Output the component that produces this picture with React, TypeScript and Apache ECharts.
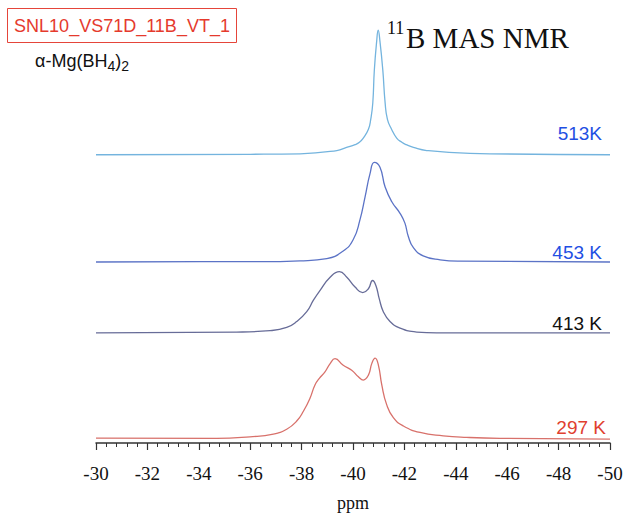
import React, { useEffect, useRef } from "react";
import * as echarts from "echarts";

// ppm positions and intensities (baseline-relative)
const ppm513 = [-30, -36, -37.94, -39.37, -39.75, -40.08, -40.25, -40.4, -40.6, -40.69, -40.77, -40.83, -40.92, -40.98, -41.05, -41.16, -41.25, -41.34, -41.5, -41.7, -41.9, -42.07, -42.35, -42.87, -44.55, -50];
const int513 = [0, 0.5, 1, 4.3, 7.5, 10.3, 12.7, 17, 26, 36, 52.7, 86, 115, 126.7, 115, 86, 52.7, 36, 26, 17, 12.7, 10.3, 7.5, 4.3, 1.5, 0];

const ppm453 = [-30, -34.05, -36.38, -37.94, -38.98, -39.62, -40.01, -40.27, -40.47, -40.66, -40.83, -41.05, -41.25, -41.51, -41.83, -42.02, -42.15, -42.35, -42.73, -43.39, -44.16, -50];
const int453 = [0, 0.3, 0.3, 1.2, 3.5, 11.2, 22.8, 42.8, 66.2, 89.5, 101.2, 96.2, 76.2, 61.2, 49.5, 39.5, 26.2, 14.5, 6.2, 2.2, 0.8, 0];

const ppm413 = [-30, -35.47, -36.77, -37.42, -37.81, -38.2, -38.46, -38.72, -39.11, -39.47, -39.76, -40.08, -40.38, -40.6, -40.76, -40.89, -41.02, -41.18, -41.44, -41.83, -42.48, -43.25, -50];
const int413 = [0, 0.8, 2.2, 5.5, 11.5, 21.5, 33.2, 43.2, 56.5, 62.2, 56.5, 46.5, 40.8, 44.8, 53.2, 48.2, 34.8, 21.5, 11.5, 4.8, 0.8, 0, 0];

const ppm297 = [-30, -34.7, -35.99, -36.9, -37.42, -37.81, -38.07, -38.33, -38.52, -38.69, -38.91, -39.11, -39.3, -39.62, -39.95, -40.21, -40.4, -40.6, -40.73, -40.86, -40.99, -41.12, -41.31, -41.57, -41.96, -42.61, -43.51, -44.42, -45.72, -50];
const int297 = [1, 0.7, 2.3, 5, 10, 18.3, 28.3, 41.7, 55, 61.7, 68.3, 76.7, 81.7, 75, 70, 63.3, 60, 65, 76.7, 82.3, 75, 55, 35, 21.7, 13.3, 6.7, 3.3, 1.7, 0.7, 0];

const temps = ["513K", "453 K", "413 K", "297 K"];
const offsets = [293, 184, 112, 4];
const xTicksMin = -50;
const xTicksMax = -30;

const serif = "'Liberation Serif', 'DejaVu Serif', serif";
const sans = "'Liberation Sans', Arial, sans-serif";

export default function App() {
  const ref = useRef<HTMLDivElement>(null);
  useEffect(() => {
    if (!ref.current) return;
    const chart = echarts.init(ref.current, null, { renderer: "svg" });
    const sets = [
      [ppm513, int513, "#74b4de"],
      [ppm453, int453, "#5b73c6"],
      [ppm413, int413, "#676c98"],
      [ppm297, int297, "#d8716b"],
    ] as const;
    const series = sets.map(([p, v, c], k) => ({
      type: "line",
      name: temps[k],
      data: (p as number[]).map((x, i) => [x, offsets[k] + (v as number[])[i]]),
      showSymbol: false,
      smooth: 0.5,
      lineStyle: { color: c, width: 1.3 },
      itemStyle: { color: c },
    }));
    chart.setOption({
      animation: false,
      backgroundColor: "#ffffff",
      grid: { left: 96, right: 18, top: 20, bottom: 67 },
      xAxis: {
        type: "value",
        min: xTicksMin,
        max: xTicksMax,
        interval: 2,
        inverse: true,
        name: "ppm",
        nameLocation: "middle",
        nameGap: 51,
        nameTextStyle: { fontFamily: serif, fontSize: 18, color: "#111" },
        axisLine: { lineStyle: { color: "#333", width: 1.5 } },
        axisTick: { show: true, length: 7, lineStyle: { color: "#333", width: 1.2 } },
        minorTick: { show: true, splitNumber: 5, length: 4, lineStyle: { color: "#333", width: 1 } },
        axisLabel: { fontFamily: serif, fontSize: 19, color: "#111", margin: 21 },
        splitLine: { show: false },
      },
      yAxis: { type: "value", min: 0, max: 430, show: false },
      series,
      graphic: [
        {
          type: "rect",
          shape: { x: 7.5, y: 8.5, width: 229, height: 34 },
          style: { fill: "none", stroke: "#e5453a", lineWidth: 1 },
        },
        {
          type: "text",
          x: 122,
          y: 25.5,
          style: { text: "SNL10_VS71D_11B_VT_1", fill: "#e53a2d", font: `18px ${sans}`, align: "center", verticalAlign: "middle" },
        },
        {
          type: "text",
          x: 35,
          y: 49,
          style: {
            text: "α-Mg(BH{sub|4}){sub|2}",
            fill: "#111",
            font: `18px ${sans}`,
            verticalAlign: "top",
            rich: { sub: { fontSize: 14, fontFamily: sans, padding: [10, 0, 0, 0], fill: "#111" } },
          },
        },
        {
          type: "text",
          x: 387,
          y: 19,
          style: { text: "11", fill: "#111", font: `18px ${serif}`, verticalAlign: "top" },
        },
        {
          type: "text",
          x: 406,
          y: 23,
          style: { text: "B MAS NMR", fill: "#111", font: `29px ${serif}`, verticalAlign: "top" },
        },
        { type: "text", x: 602, y: 133, style: { text: temps[0], fill: "#1f4fe3", font: `19px ${sans}`, align: "right", verticalAlign: "middle" } },
        { type: "text", x: 602, y: 252, style: { text: temps[1], fill: "#1f4fe3", font: `19px ${sans}`, align: "right", verticalAlign: "middle" } },
        { type: "text", x: 602, y: 323, style: { text: temps[2], fill: "#111", font: `19px ${sans}`, align: "right", verticalAlign: "middle" } },
        { type: "text", x: 606, y: 427, style: { text: temps[3], fill: "#e0402f", font: `19px ${sans}`, align: "right", verticalAlign: "middle" } },
      ],
    });
    return () => chart.dispose();
  }, []);
  return <div ref={ref} style={{ width: 628, height: 517, position: "absolute", left: 0, top: 0 }} />;
}
